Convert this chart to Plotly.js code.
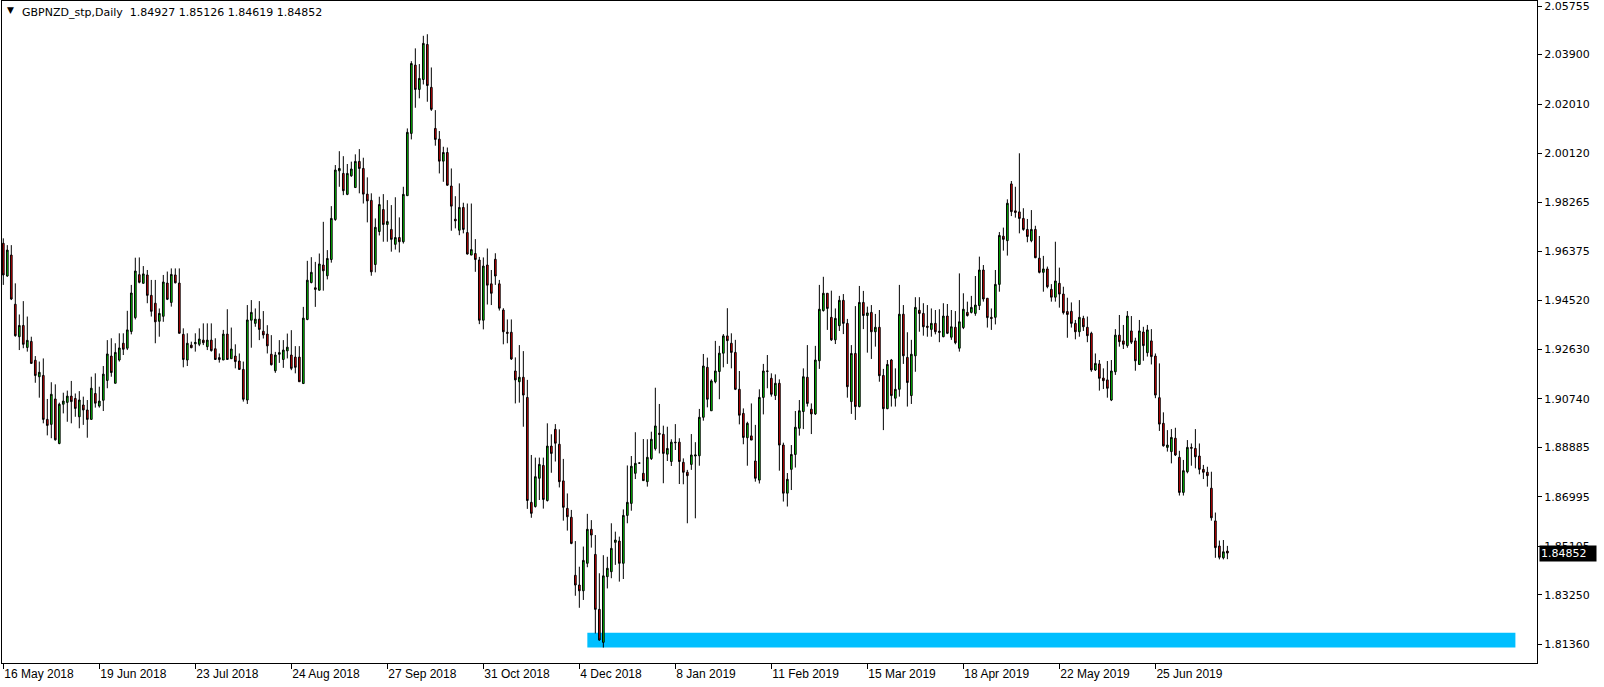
<!DOCTYPE html>
<html>
<head>
<meta charset="utf-8">
<script src="https://cdn.plot.ly/plotly-3.0.1.min.js"></script>
<style>
  html, body { margin: 0; padding: 0; background: #ffffff; }
  #chart { width: 1604px; height: 687px; }
</style>
</head>
<body>
<div id="chart"></div>
<script>
// ---------------- data (GBPNZD_stp, Daily) ----------------
const symbol = "GBPNZD_stp";
const timeframe = "Daily";

const openPrices = [
  1.9669,1.9544,1.9624,1.9436,1.9312,1.9355,1.9271,1.9294,1.9222,1.9159,
  1.9164,1.8996,1.8977,1.9074,1.8904,1.9054,1.9061,1.9085,1.9076,1.9006,
  1.9051,1.9032,1.8996,1.9095,1.9047,1.9069,1.9145,1.9238,1.9134,1.9223,
  1.9287,1.9268,1.9332,1.9385,1.9549,1.9516,1.9548,1.9470,1.9440,1.9371,
  1.9390,1.9517,1.9443,1.9548,1.9517,1.9321,1.9223,1.9280,1.9285,1.9283,
  1.9299,1.9274,1.9299,1.9266,1.9232,1.9223,1.9322,1.9228,1.9238,1.9219,
  1.9187,1.9070,1.9375,1.9363,1.9379,1.9333,1.9322,1.9245,1.9182,1.9245,
  1.9225,1.9258,1.9242,1.9234,1.9234,1.9133,1.9378,1.9519,1.9499,1.9490,
  1.9586,1.9545,1.9607,1.9760,1.9946,1.9936,1.9856,1.9927,1.9882,1.9982,
  1.9955,1.9857,1.9833,1.9588,1.9714,1.9798,1.9741,1.9722,1.9665,1.9691,
  1.9675,1.9851,2.0089,2.0350,2.0257,2.0295,2.0429,2.0265,2.0108,2.0067,
  1.9983,2.0016,1.9888,1.9761,1.9719,1.9806,1.9710,1.9624,1.9630,1.9605,
  1.9375,1.9586,1.9514,1.9608,1.9514,1.9414,1.9329,1.9329,1.9181,1.9140,
  1.9157,1.9080,1.8679,1.8663,1.8771,1.8820,1.8686,1.8894,1.8958,1.8901,
  1.8761,1.8656,1.8622,1.8400,1.8363,1.8341,1.8446,1.8576,1.8480,1.8270,
  1.8144,1.8395,1.8414,1.8526,1.8531,1.8446,1.8629,1.8675,1.8790,1.8829,
  1.8790,1.8758,1.8846,1.8884,1.8943,1.8939,1.8863,1.8835,1.8909,1.8909,
  1.8832,1.8794,1.8824,1.8856,1.8857,1.9004,1.9195,1.9029,1.9140,1.9179,
  1.9249,1.9315,1.9287,1.9252,1.9111,1.9019,1.8926,1.8933,1.8837,1.8764,
  1.9080,1.9181,1.9153,1.9087,1.9134,1.8898,1.8714,1.8805,1.8862,1.8962,
  1.9026,1.9157,1.9035,1.9017,1.9220,1.9412,1.9478,1.9386,1.9300,1.9354,
  1.9451,1.9363,1.9064,1.9248,1.9045,1.9443,1.9393,1.9405,1.9331,1.9348,
  1.9164,1.9037,1.9223,1.9077,1.9111,1.9398,1.9233,1.9087,1.9239,1.9413,
  1.9401,1.9352,1.9340,1.9363,1.9333,1.9312,1.9391,1.9310,1.9348,1.9268,
  1.9347,1.9405,1.9405,1.9401,1.9431,1.9567,1.9459,1.9386,1.9386,1.9512,
  1.9696,1.9679,1.9896,1.9793,1.9789,1.9764,1.9722,1.9679,1.9722,1.9612,
  1.9558,1.9571,1.9493,1.9463,1.9516,1.9475,1.9408,1.9409,1.9363,1.9331,
  1.9382,1.9348,1.9325,1.9185,1.9208,1.9154,1.9147,1.9070,1.9178,1.9318,
  1.9296,1.9278,1.9334,1.9296,1.9206,1.9330,1.9251,1.9296,1.9238,1.9079,
  1.8981,1.8889,1.8873,1.8924,1.8851,1.8717,1.8796,1.8889,1.8885,1.8856,
  1.8805,1.8794,1.8733,1.8608,1.8512,1.8467,1.84927
];

const highPrices = [
  1.9688,1.9662,1.9662,1.9516,1.9397,1.9448,1.9389,1.9312,1.9238,1.9217,
  1.9229,1.9074,1.9138,1.9130,1.9060,1.9098,1.9106,1.9143,1.9095,1.9104,
  1.9083,1.9070,1.9159,1.9172,1.9121,1.9200,1.9299,1.9306,1.9287,1.9325,
  1.9325,1.9411,1.9510,1.9614,1.9615,1.9582,1.9567,1.9529,1.9529,1.9420,
  1.9548,1.9561,1.9573,1.9573,1.9573,1.9344,1.9325,1.9293,1.9325,1.9344,
  1.9363,1.9363,1.9363,1.9306,1.9248,1.9338,1.9417,1.9347,1.9283,1.9248,
  1.9217,1.9433,1.9452,1.9420,1.9448,1.9410,1.9356,1.9318,1.9254,1.9299,
  1.9299,1.9324,1.9337,1.9276,1.9276,1.9426,1.9602,1.9616,1.9598,1.9630,
  1.9751,1.9643,1.9811,1.9968,2.0021,2.0002,1.9972,1.9981,2.0009,2.0029,
  1.9996,1.9921,1.9860,1.9764,1.9847,1.9857,1.9834,1.9815,1.9845,1.9768,
  1.9885,2.0108,2.0365,2.0414,2.0354,2.0462,2.0468,2.0341,2.0178,2.0098,
  2.0038,2.0035,1.9955,1.9849,1.9898,1.9824,1.9821,1.9821,1.9685,1.9617,
  1.9615,1.9649,1.9567,1.9631,1.9529,1.9421,1.9378,1.9378,1.9233,1.9280,
  1.9257,1.9147,1.8860,1.8850,1.8850,1.8850,1.8981,1.8939,1.8978,1.8958,
  1.8845,1.8713,1.8650,1.8531,1.8433,1.8510,1.8635,1.8611,1.8554,1.8408,
  1.8477,1.8471,1.8599,1.8567,1.8548,1.8652,1.8820,1.8856,1.8947,1.8831,
  1.8921,1.8920,1.8949,1.9117,1.9055,1.8972,1.8968,1.8920,1.8978,1.8924,
  1.8847,1.8803,1.8940,1.8909,1.9036,1.9246,1.9232,1.9149,1.9296,1.9277,
  1.9322,1.9421,1.9325,1.9300,1.9181,1.9038,1.8987,1.9057,1.8975,1.9111,
  1.9208,1.9242,1.9172,1.9168,1.9149,1.8907,1.8791,1.8898,1.9028,1.9070,
  1.9191,1.9280,1.9057,1.9277,1.9510,1.9541,1.9478,1.9488,1.9420,1.9468,
  1.9475,1.9380,1.9280,1.9429,1.9506,1.9487,1.9427,1.9433,1.9399,1.9414,
  1.9189,1.9223,1.9227,1.9191,1.9510,1.9433,1.9329,1.9300,1.9463,1.9463,
  1.9440,1.9433,1.9420,1.9414,1.9417,1.9440,1.9437,1.9414,1.9410,1.9554,
  1.9478,1.9446,1.9468,1.9544,1.9618,1.9586,1.9459,1.9420,1.9567,1.9712,
  1.9729,1.9837,1.9907,1.9885,2.0013,1.9803,1.9762,1.9796,1.9736,1.9697,
  1.9621,1.9580,1.9513,1.9675,1.9576,1.9503,1.9461,1.9443,1.9376,1.9452,
  1.9392,1.9389,1.9331,1.9248,1.9223,1.9191,1.9219,1.9223,1.9341,1.9395,
  1.9357,1.9410,1.9391,1.9308,1.9376,1.9350,1.9357,1.9341,1.9248,1.9210,
  1.9023,1.8955,1.8959,1.8964,1.8876,1.8841,1.8917,1.8904,1.8959,1.8904,
  1.8822,1.8815,1.8796,1.8640,1.8533,1.8535,1.85126
];

const lowPrices = [
  1.9510,1.9541,1.9452,1.9312,1.9261,1.9268,1.9255,1.9210,1.9136,1.9079,
  1.8981,1.8935,1.8924,1.8915,1.8901,1.9019,1.8987,1.8981,1.9006,1.8962,
  1.8975,1.8926,1.8996,1.9041,1.9041,1.9028,1.9115,1.9159,1.9134,1.9217,
  1.9242,1.9261,1.9321,1.9378,1.9516,1.9516,1.9440,1.9389,1.9287,1.9312,
  1.9369,1.9452,1.9427,1.9516,1.9325,1.9195,1.9200,1.9268,1.9255,1.9276,
  1.9280,1.9261,1.9255,1.9223,1.9213,1.9223,1.9225,1.9228,1.9191,1.9185,
  1.9064,1.9055,1.9270,1.9350,1.9299,1.9305,1.9248,1.9202,1.9174,1.9212,
  1.9193,1.9229,1.9184,1.9172,1.9140,1.9133,1.9375,1.9516,1.9426,1.9488,
  1.9488,1.9531,1.9595,1.9755,1.9885,1.9853,1.9853,1.9923,1.9882,1.9860,
  1.9821,1.9749,1.9545,1.9558,1.9699,1.9675,1.9675,1.9637,1.9645,1.9634,
  1.9668,1.9851,2.0066,2.0187,2.0223,2.0276,2.0210,2.0175,2.0042,1.9936,
  1.9904,1.9889,1.9717,1.9726,1.9700,1.9707,1.9626,1.9624,1.9560,1.9360,
  1.9340,1.9435,1.9433,1.9510,1.9412,1.9283,1.9287,1.9223,1.9057,1.9060,
  1.8968,1.8654,1.8620,1.8659,1.8688,1.8655,1.8682,1.8792,1.8835,1.8736,
  1.8609,1.8571,1.8519,1.8322,1.8276,1.8306,1.8431,1.8506,1.8178,1.8150,
  1.8124,1.8350,1.8389,1.8440,1.8376,1.8386,1.8599,1.8647,1.8768,1.8827,
  1.8761,1.8739,1.8841,1.8877,1.8866,1.8752,1.8837,1.8818,1.8879,1.8749,
  1.8748,1.8599,1.8803,1.8618,1.8819,1.8991,1.9042,1.9029,1.9134,1.9073,
  1.9195,1.9208,1.9191,1.9108,1.8977,1.8901,1.8819,1.8917,1.8758,1.8751,
  1.9015,1.9115,1.9083,1.9070,1.8800,1.8682,1.8663,1.8726,1.8812,1.8934,
  1.8959,1.9045,1.8940,1.9013,1.9189,1.9408,1.9338,1.9296,1.9284,1.9334,
  1.9322,1.9079,1.9017,1.8994,1.9042,1.9341,1.9251,1.9227,1.9274,1.9140,
  1.8955,1.9035,1.9045,1.9045,1.9083,1.9208,1.9045,1.9055,1.9178,1.9331,
  1.9316,1.9312,1.9312,1.9321,1.9291,1.9310,1.9322,1.9300,1.9283,1.9255,
  1.9341,1.9389,1.9401,1.9392,1.9414,1.9446,1.9347,1.9338,1.9359,1.9484,
  1.9641,1.9622,1.9773,1.9767,1.9707,1.9717,1.9673,1.9673,1.9612,1.9554,
  1.9484,1.9497,1.9446,1.9446,1.9423,1.9397,1.9308,1.9347,1.9302,1.9312,
  1.9334,1.9291,1.9178,1.9181,1.9106,1.9112,1.9079,1.9066,1.9166,1.9274,
  1.9265,1.9270,1.9284,1.9182,1.9204,1.9220,1.9236,1.9206,1.9077,1.8952,
  1.8892,1.8873,1.8828,1.8856,1.8705,1.8705,1.8790,1.8819,1.8809,1.8786,
  1.8768,1.8739,1.8609,1.8467,1.8461,1.8461,1.84619
];

const closePrices = [
  1.9548,1.9643,1.9456,1.9316,1.9355,1.9283,1.9298,1.9210,1.9164,1.9176,
  1.8996,1.8973,1.9092,1.8918,1.9054,1.9066,1.9085,1.9064,1.9038,1.9070,
  1.9032,1.8996,1.9115,1.9058,1.9066,1.9169,1.9246,1.9175,1.9252,1.9269,
  1.9264,1.9338,1.9479,1.9563,1.9520,1.9552,1.9470,1.9409,1.9369,1.9401,
  1.9521,1.9455,1.9550,1.9518,1.9325,1.9225,1.9287,1.9270,1.9290,1.9303,
  1.9289,1.9299,1.9259,1.9225,1.9225,1.9322,1.9225,1.9265,1.9217,1.9187,
  1.9073,1.9376,1.9405,1.9379,1.9340,1.9319,1.9277,1.9205,1.9242,1.9251,
  1.9261,1.9272,1.9191,1.9195,1.9140,1.9383,1.9528,1.9558,1.9493,1.9590,
  1.9564,1.9611,1.9764,1.9949,1.9955,1.9870,1.9936,1.9953,1.9982,1.9955,
  1.9857,1.9831,1.9560,1.9730,1.9817,1.9741,1.9752,1.9684,1.9691,1.9675,
  1.9856,2.0093,2.0356,2.0257,2.0299,2.0433,2.0272,2.0181,2.0066,1.9983,
  2.0016,1.9891,1.9811,1.9755,1.9806,1.9722,1.9628,1.9645,1.9607,1.9375,
  1.9582,1.9509,1.9478,1.9544,1.9421,1.9331,1.9325,1.9227,1.9147,1.9157,
  1.9089,1.8686,1.8637,1.8777,1.8824,1.8690,1.8894,1.8866,1.8905,1.8758,
  1.8660,1.8624,1.8522,1.8363,1.8341,1.8457,1.8576,1.8554,1.8270,1.8153,
  1.8398,1.8427,1.8503,1.8535,1.8446,1.8629,1.8679,1.8817,1.8828,1.8829,
  1.8762,1.8851,1.8920,1.8971,1.8939,1.8866,1.8885,1.8909,1.8907,1.8835,
  1.8794,1.8781,1.8860,1.8860,1.9004,1.9200,1.9073,1.9143,1.9181,1.9249,
  1.9315,1.9297,1.9252,1.9111,1.9012,1.8927,1.8981,1.8917,1.8771,1.9080,
  1.9181,1.9180,1.9092,1.9134,1.8898,1.8714,1.8767,1.8862,1.8966,1.9029,
  1.9159,1.9057,1.9017,1.9223,1.9417,1.9478,1.9420,1.9300,1.9382,1.9451,
  1.9363,1.9121,1.9248,1.9045,1.9443,1.9393,1.9403,1.9331,1.9348,1.9163,
  1.9037,1.9206,1.9087,1.9111,1.9398,1.9239,1.9137,1.9245,1.9424,1.9401,
  1.9350,1.9348,1.9363,1.9331,1.9329,1.9391,1.9325,1.9350,1.9289,1.9369,
  1.9417,1.9393,1.9424,1.9433,1.9567,1.9456,1.9385,1.9382,1.9512,1.9699,
  1.9684,1.9822,1.9790,1.9787,1.9764,1.9722,1.9695,1.9722,1.9614,1.9558,
  1.9571,1.9503,1.9463,1.9525,1.9475,1.9404,1.9397,1.9363,1.9331,1.9386,
  1.9350,1.9316,1.9185,1.9210,1.9153,1.9144,1.9115,1.9181,1.9318,1.9293,
  1.9283,1.9391,1.9291,1.9220,1.9334,1.9278,1.9338,1.9236,1.9089,1.8978,
  1.8895,1.8898,1.8927,1.8860,1.8717,1.8800,1.8889,1.8886,1.8853,1.8805,
  1.8794,1.8781,1.8620,1.8506,1.8469,1.8490,1.84852
];

// x-axis date labels (bar index of each label)
const dateTickBars = [0, 24, 48, 72, 96, 120, 144, 168, 192, 216, 240, 264, 288];
const dateTickLabels = ["16 May 2018", "19 Jun 2018", "23 Jul 2018", "24 Aug 2018",
  "27 Sep 2018", "31 Oct 2018", "4 Dec 2018", "8 Jan 2019", "11 Feb 2019",
  "15 Mar 2019", "18 Apr 2019", "22 May 2019", "25 Jun 2019"];

// price-axis labels
const priceTickLabels = ["2.05755", "2.03900", "2.02010", "2.00120", "1.98265", "1.96375",
  "1.94520", "1.92630", "1.90740", "1.88885", "1.86995", "1.85105", "1.83250", "1.81360"];

// support zone (blue band)
const zoneStartBar = 146;
const zoneEndBar = 378;
const zoneLow = 1.8124;
const zoneHigh = 1.8181;

// visible window
const visibleBars = [-0.325, 383.4];
const visiblePrices = [1.8065, 2.0595];

// ---------------- chart ----------------
const barIndex = openPrices.map((_, i) => i);
const last = openPrices.length - 1;
const fmt = v => v.toFixed(5);

const trace = {
  type: "candlestick",
  x: barIndex,
  open: openPrices,
  high: highPrices,
  low: lowPrices,
  close: closePrices,
  increasing: { fillcolor: "#00DC00", line: { color: "#000000", width: 1 } },
  decreasing: { fillcolor: "#E80000", line: { color: "#000000", width: 1 } },
  whiskerwidth: 0,
  hoverinfo: "skip",
  showlegend: false
};

const headerText = symbol + "," + timeframe + "\u00a0\u00a0" +
  fmt(openPrices[last]) + " " + fmt(highPrices[last]) + " " +
  fmt(lowPrices[last]) + " " + fmt(closePrices[last]);

const layout = {
  width: 1604,
  height: 687,
  margin: { l: 2, r: 67, t: 1, b: 24, pad: 0 },
  paper_bgcolor: "#ffffff",
  plot_bgcolor: "#ffffff",
  font: { family: "DejaVu Sans, sans-serif", size: 11, color: "#000000" },
  showlegend: false,
  hovermode: false,
  boxgap: 0.4,
  xaxis: {
    type: "linear",
    range: visibleBars,
    autorange: false,
    showgrid: false,
    zeroline: false,
    showline: true,
    mirror: true,
    linecolor: "#000000",
    linewidth: 1,
    ticks: "outside",
    ticklen: 5,
    tickwidth: 1,
    tickcolor: "#000000",
    tickmode: "array",
    tickvals: dateTickBars,
    ticktext: dateTickLabels,
    ticklabelposition: "outside right",
    ticklabeloverflow: "allow",
    tickfont: { family: "Liberation Sans, sans-serif", size: 12, color: "#000000" },
    rangeslider: { visible: false },
    fixedrange: true
  },
  yaxis: {
    side: "right",
    range: visiblePrices,
    autorange: false,
    showgrid: false,
    zeroline: false,
    showline: true,
    mirror: true,
    linecolor: "#000000",
    linewidth: 1,
    ticks: "outside",
    ticklen: 4,
    tickwidth: 1,
    tickcolor: "#000000",
    tickmode: "array",
    tickvals: priceTickLabels.map(Number),
    ticktext: priceTickLabels,
    ticklabeloverflow: "allow",
    tickfont: { family: "DejaVu Sans, sans-serif", size: 11, color: "#000000" },
    fixedrange: true
  },
  shapes: [{
    type: "rect",
    xref: "x", yref: "y",
    x0: zoneStartBar, x1: zoneEndBar,
    y0: zoneLow, y1: zoneHigh,
    fillcolor: "#00BFFF",
    line: { width: 0 },
    layer: "below"
  }],
  annotations: [
    {
      xref: "paper", yref: "paper", x: 0, y: 1,
      xanchor: "left", yanchor: "top", xshift: 3, yshift: -2,
      text: "\u25BC", showarrow: false,
      font: { family: "DejaVu Sans, sans-serif", size: 9, color: "#000000" }
    },
    {
      xref: "paper", yref: "paper", x: 0, y: 1,
      xanchor: "left", yanchor: "top", xshift: 18, yshift: -3,
      text: headerText, showarrow: false,
      font: { family: "DejaVu Sans, sans-serif", size: 11, color: "#000000" }
    },
    {
      xref: "paper", yref: "y", x: 1, y: closePrices[last],
      xanchor: "left", yanchor: "middle", xshift: 2,
      text: fmt(closePrices[last]), showarrow: false,
      width: 54, align: "left",
      bgcolor: "#000000", borderpad: 1,
      font: { family: "DejaVu Sans, sans-serif", size: 11, color: "#ffffff" }
    }
  ]
};

Plotly.newPlot("chart", [trace], layout, { staticPlot: true, displayModeBar: false });
</script>
</body>
</html>
